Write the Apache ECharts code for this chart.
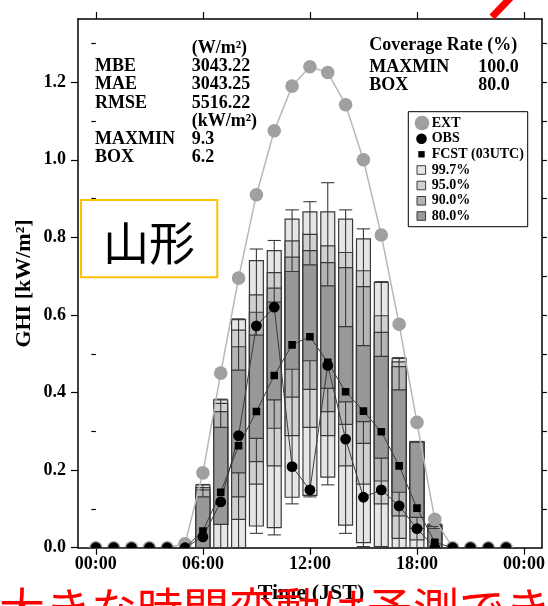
<!DOCTYPE html>
<html><head><meta charset="utf-8">
<script src="https://cdn.jsdelivr.net/npm/echarts@6/dist/echarts.min.js"></script>
<style>html,body{margin:0;padding:0;background:#fff}#c{width:548px;height:606px}</style>
</head><body><div id="c"></div>
<script>
// ---- data ----
const hours = [0,1,2,3,4,5,6,7,8,9,10,11,12,13,14,15,16,17,18,19,20,21,22,23];
const ext  = [0,0,0,0,0,0.010,0.193,0.450,0.695,0.910,1.075,1.190,1.240,1.225,1.142,1.000,0.806,0.576,0.323,0.073,0,0,0,0];
const obs  = [0,0,0,0,0,0,0.028,0.118,0.289,0.572,0.620,0.209,0.149,0.470,0.280,0.130,0.149,0.108,0.049,0,0,0,0,0];
const fcst = [0,0,0,0,0,0,0.043,0.143,0.263,0.351,0.444,0.523,0.544,0.478,0.402,0.352,0.299,0.211,0.102,0.014,0,0,0,0];

const boxHours  = [6,7,8,9,10,11,12,13,14,15,16,17,18,19];
const boxMax    = [0.163,0.383,0.590,0.770,0.792,0.871,0.892,0.941,0.871,0.822,0.686,0.490,0.274,0.061];
const box997Top = [0.162,0.381,0.588,0.740,0.766,0.847,0.866,0.866,0.847,0.796,0.684,0.488,0.272,0.060];
const box95Top  = [0.155,0.372,0.561,0.652,0.709,0.791,0.808,0.778,0.761,0.714,0.598,0.479,0.272,0.058];
const box90Top  = [0.149,0.351,0.518,0.607,0.669,0.749,0.766,0.735,0.722,0.673,0.555,0.467,0.272,0.055];
const box80Top  = [0.131,0.310,0.458,0.548,0.633,0.712,0.729,0.675,0.570,0.521,0.493,0.407,0.272,0.050];
const box80Bot  = [0,0.060,0.193,0.282,0.381,0.460,0.482,0.411,0.376,0.325,0.231,0.143,0.078,0];
const box90Bot  = [0,0.060,0.131,0.222,0.308,0.388,0.408,0.351,0.318,0.269,0.172,0.082,0.050,0];
const box95Bot  = [0,0.060,0.073,0.164,0.211,0.289,0.310,0.289,0.211,0.164,0.113,0.024,0.020,0];
const box997Bot = [0,0,0,0.056,0.052,0.130,0.135,0.182,0.058,0.013,0.003,0,0,0];
const boxMin    = [0,0,0,0.037,0.033,0.113,0.131,0.162,0.037,0.003,0,0,0,0];

const xTickHours  = [0,6,12,18,24];
const xTickLabels = ['00:00','06:00','12:00','18:00','00:00'];
const yTicks      = [0,0.2,0.4,0.6,0.8,1.0,1.2];
const yMinorTicks = [0.1,0.3,0.5,0.7,0.9,1.1,1.3];
const yRightTicks = [0.1,0.2,0.3,0.4,0.5,0.6,0.7,0.8,0.9,1.0,1.1,1.2,1.3];
const yMax = 1.363;

const statLabels = ['MBE','MAE','RMSE','MAXMIN','BOX'];
const statValues = ['3043.22','3043.25','5516.22','9.3','6.2'];
const covLabels  = ['MAXMIN','BOX'];
const covValues  = ['100.0','80.0'];
const legendNames = ['EXT','OBS','FCST (03UTC)','99.7%','95.0%','90.0%','80.0%'];

// ---- styles ----
const SERIF = '"Liberation Serif","Times New Roman",serif';
const CJK = '"Noto Sans CJK JP","Noto Sans CJK SC",sans-serif';
const C997 = '#e6e6e6', C95 = '#d0d0d0', C90 = '#b4b4b4', C80 = '#989898';
const EDGE = '#3a3a3a';
const EXTC = '#a0a0a0';

const chart = echarts.init(document.getElementById('c'), null, {renderer: 'canvas'});

function clipOf(params) {
  const cs = params.coordSys;
  return {type: 'rect', shape: {x: cs.x, y: cs.y, width: cs.width, height: cs.height}};
}

function renderBox(params, api) {
  const h = api.value(0);
  const xc = api.coord([h, 0])[0];
  const w = api.size([1, 0])[0] * 0.78;
  const Y = v => api.coord([h, v])[1];
  const vmax = api.value(1), t997 = api.value(2), t95 = api.value(3), t90 = api.value(4), t80 = api.value(5);
  const b80 = api.value(6), b90 = api.value(7), b95 = api.value(8), b997 = api.value(9), vmin = api.value(10);
  const rect = (top, bot, fill) => ({
    type: 'rect',
    shape: {x: xc - w / 2, y: Y(top), width: w, height: Y(bot) - Y(top)},
    style: {fill: fill, stroke: EDGE, lineWidth: 1.2}
  });
  const ln = (x1, y1, x2, y2) => ({type: 'line', shape: {x1, y1, x2, y2}, style: {stroke: EDGE, lineWidth: 1.1}});
  const cw = w * 0.95;
  return {
    type: 'group',
    children: [
      rect(t997, b997, C997),
      rect(t95, b95, C95),
      rect(t90, b90, C90),
      ln(xc, Y(vmax), xc, Y(vmin)),
      ln(xc - cw / 2, Y(vmax), xc + cw / 2, Y(vmax)),
      ln(xc - cw / 2, Y(vmin), xc + cw / 2, Y(vmin)),
      rect(t80, b80, C80)
    ]
  };
}

function circleMarker(r, fill) {
  return function (params, api) {
    const p = api.coord([api.value(0), api.value(1)]);
    return {type: 'circle', shape: {cx: p[0], cy: p[1], r: r}, style: {fill: fill}, clipPath: clipOf(params)};
  };
}
function squareMarker(s, fill) {
  return function (params, api) {
    const p = api.coord([api.value(0), api.value(1)]);
    return {type: 'rect', shape: {x: p[0] - s / 2, y: p[1] - s / 2, width: s, height: s}, style: {fill: fill}, clipPath: clipOf(params)};
  };
}

const pairs = arr => hours.map((h, i) => [h, arr[i]]);
const boxData = boxHours.map((h, i) => [h, boxMax[i], box997Top[i], box95Top[i], box90Top[i], box80Top[i],
  box80Bot[i], box90Bot[i], box95Bot[i], box997Bot[i], boxMin[i]]);

const axisLineStyle = {color: '#000', width: 1.5};
const tickStyle = {color: '#000', width: 1.2};

// ---- graphic overlays ----
function txt(text, x, y, font, align, fill, extra) {
  return Object.assign({
    type: 'text', x: x, y: y, z: 100,
    style: {text: text, font: font, fill: fill || '#000', textAlign: align || 'left', textVerticalAlign: 'middle',
            align: align || 'left', verticalAlign: 'middle'}
  }, extra || {});
}
const F18 = 'bold 18px ' + SERIF;
const F14 = 'bold 14px ' + SERIF;
const graphics = [];
// left stats block
graphics.push(txt('(W/m²)', 191.7, 48.5, F18));
const statY = [66.7, 84.8, 103.0, 139.3, 157.4];
statLabels.forEach((s, i) => { graphics.push(txt(s, 95, statY[i], F18)); graphics.push(txt(statValues[i], 191.7, statY[i], F18)); });
graphics.push(txt('(kW/m²)', 191.7, 121.1, F18));
// coverage block
graphics.push(txt('Coverage Rate (%)', 369.3, 45.5, F18));
const covY = [67.8, 85.0];
covLabels.forEach((s, i) => { graphics.push(txt(s, 369.3, covY[i], F18)); graphics.push(txt(covValues[i], 478.3, covY[i], F18)); });
// legend
graphics.push({type: 'rect', z: 90, shape: {x: 408.3, y: 111.7, width: 119.4, height: 115}, style: {fill: '#fff', stroke: '#000', lineWidth: 1}});
const legY = [123, 138.8, 154.3, 170, 185.5, 200.8, 216];
graphics.push({type: 'circle', z: 95, shape: {cx: 422, cy: legY[0], r: 7.3}, style: {fill: EXTC}});
graphics.push({type: 'circle', z: 95, shape: {cx: 421.5, cy: legY[1], r: 5.3}, style: {fill: '#000'}});
graphics.push({type: 'rect', z: 95, shape: {x: 418.3, y: legY[2] - 3.2, width: 6.4, height: 6.4}, style: {fill: '#000'}});
[C997, C95, C90, C80].forEach((c, i) => {
  graphics.push({type: 'rect', z: 95, shape: {x: 417, y: legY[3 + i] - 4.3, width: 8.6, height: 8.6}, style: {fill: c, stroke: EDGE, lineWidth: 1}});
});
legendNames.forEach((n, i) => graphics.push(txt(n, 431.7, legY[i], F14)));
// axis titles
graphics.push(txt('GHI [kW/m²]', 24, 283.5, 'bold 22px ' + SERIF, 'center', '#000', {rotation: Math.PI / 2}));
graphics.push(txt('Time (JST)', 311, 593.5, 'bold 22px ' + SERIF, 'center'));
// yellow box with place name
graphics.push({type: 'rect', z: 100, shape: {x: 81, y: 200, width: 136.3, height: 77.3}, style: {fill: '#fff', stroke: '#ffc000', lineWidth: 2}});
graphics.push(txt('山形', 149, 242.5, '46px ' + CJK, 'center', '#000', {z: 101}));
// red caption and red stroke
graphics.push({type: 'text', x: -1, y: 585.7, z: 110,
  style: {text: '大きな時間変動は予測でき', font: '46px ' + CJK, fill: '#ff0000', textAlign: 'left', textVerticalAlign: 'top', align: 'left', verticalAlign: 'top'}});
graphics.push({type: 'line', z: 110, shape: {x1: 492, y1: 17, x2: 517, y2: -9}, style: {stroke: '#ff0000', lineWidth: 7}});

const option = {
  animation: false,
  backgroundColor: '#fff',
  grid: {left: 78, right: 6, top: 19, bottom: 58.3},
  xAxis: [
    {type: 'value', min: -1, max: 25, position: 'bottom',
     axisLine: {show: true, onZero: false, lineStyle: axisLineStyle},
     axisTick: {show: true, inside: false, length: 7, customValues: xTickHours, lineStyle: tickStyle},
     axisLabel: {show: true, customValues: xTickHours, margin: 8, color: '#000', fontFamily: SERIF, fontWeight: 'bold', fontSize: 18,
                 formatter: v => xTickLabels[xTickHours.indexOf(Math.round(v))]},
     splitLine: {show: false}},
    {type: 'value', min: -1, max: 25, position: 'top',
     axisLine: {show: true, onZero: false, lineStyle: axisLineStyle},
     axisTick: {show: true, inside: false, length: 7, customValues: xTickHours, lineStyle: tickStyle},
     axisLabel: {show: false}, splitLine: {show: false}}
  ],
  yAxis: [
    {type: 'value', min: 0, max: yMax, position: 'left',
     axisLine: {show: true, onZero: false, lineStyle: axisLineStyle},
     axisTick: {show: true, inside: false, length: 7, customValues: yTicks, lineStyle: tickStyle},
     axisLabel: {show: true, customValues: yTicks, margin: 12, color: '#000', fontFamily: SERIF, fontWeight: 'bold', fontSize: 18,
                 formatter: v => v.toFixed(1)},
     splitLine: {show: false}},
    {type: 'value', min: 0, max: yMax, position: 'left',
     axisLine: {show: false},
     axisTick: {show: true, inside: false, length: 4.5, customValues: yMinorTicks, lineStyle: tickStyle},
     axisLabel: {show: false}, splitLine: {show: false}},
    {type: 'value', min: 0, max: yMax, position: 'right',
     axisLine: {show: true, onZero: false, lineStyle: axisLineStyle},
     axisTick: {show: true, inside: false, length: 5, customValues: yRightTicks, lineStyle: tickStyle},
     axisLabel: {show: false}, splitLine: {show: false}}
  ],
  series: [
    {type: 'custom', name: 'box', renderItem: renderBox, data: boxData, xAxisIndex: 0, yAxisIndex: 0, silent: true, z: 2},
    {type: 'line', name: 'EXT line', data: pairs(ext), showSymbol: false, symbol: 'none', lineStyle: {color: '#b8b8b8', width: 1.5}, silent: true, z: 3},
    {type: 'custom', name: 'EXT', renderItem: circleMarker(6.8, EXTC), data: pairs(ext), silent: true, z: 4},
    {type: 'line', name: 'FCST line', data: pairs(fcst), showSymbol: false, symbol: 'none', lineStyle: {color: '#3c3c3c', width: 1}, silent: true, z: 5},
    {type: 'line', name: 'OBS line', data: pairs(obs), showSymbol: false, symbol: 'none', lineStyle: {color: '#3c3c3c', width: 1}, silent: true, z: 5},
    {type: 'custom', name: 'FCST', renderItem: squareMarker(7.6, '#000'), data: pairs(fcst), silent: true, z: 6},
    {type: 'custom', name: 'OBS', renderItem: circleMarker(5.4, '#000'), data: pairs(obs), silent: true, z: 7}
  ],
  graphic: graphics
};
chart.setOption(option);
</script>
</body></html>
